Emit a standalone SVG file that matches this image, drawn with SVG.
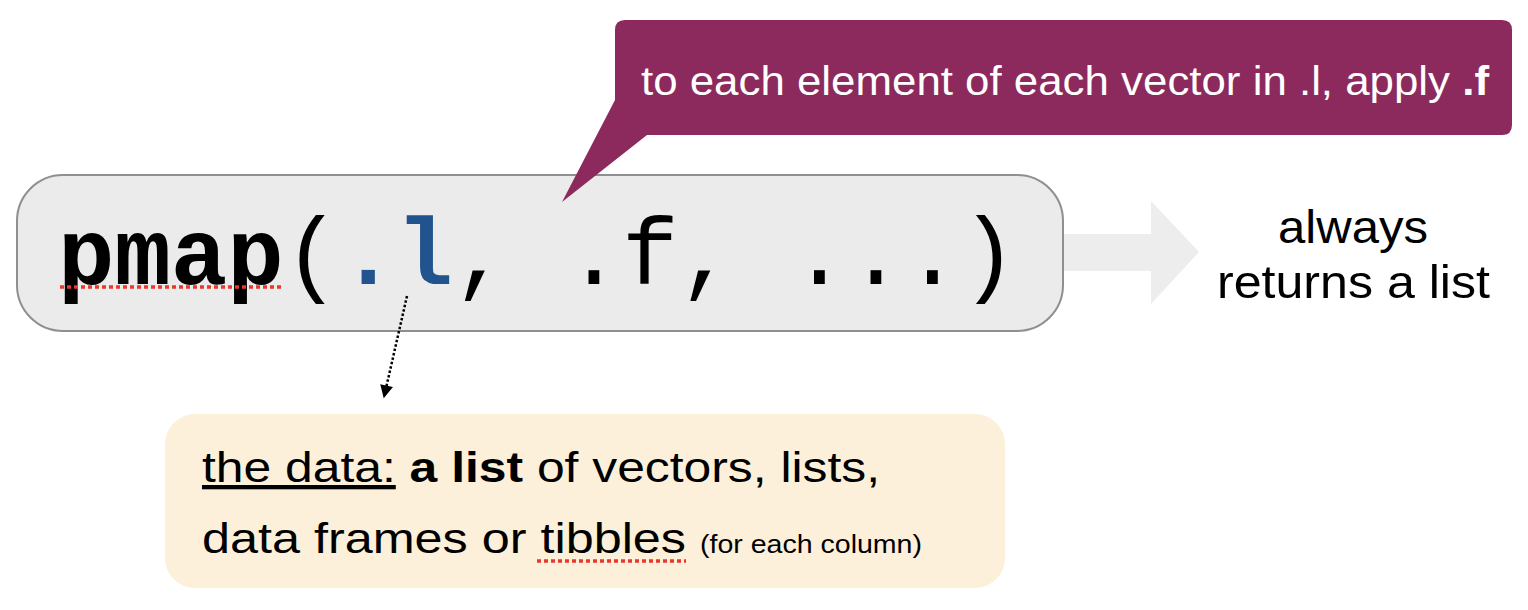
<svg xmlns="http://www.w3.org/2000/svg" width="1528" height="610" viewBox="0 0 1528 610">
<style>
.sans{font-family:"Liberation Sans",Arial,sans-serif;}
.mono{font-family:"Liberation Mono","Courier New",monospace;font-size:94px;}
.redline{stroke:#e8392b;stroke-width:3.5;stroke-dasharray:4,3;fill:none;}
</style>
<defs>
<marker id="ah" viewBox="0 0 10 10" refX="9" refY="5" markerWidth="15" markerHeight="13" orient="auto" markerUnits="userSpaceOnUse">
<path d="M0,0 L10,5 L0,10 z" fill="#000"/>
</marker>
</defs>
<rect width="1528" height="610" fill="#fff"/>
<g id="result-arrow">
<polygon points="1064,234 1151,234 1151,201 1199,252 1151,304 1151,271 1064,271" fill="#ededed"/>
</g>
<g id="code">
<rect x="17" y="175" width="1046" height="156" rx="46" ry="46" fill="#ebebeb" stroke="#8f8f8f" stroke-width="2"/>
<text class="mono" x="58" y="284"><tspan font-weight="bold">pmap</tspan>(<tspan font-weight="bold" fill="#21548f">.l</tspan>, .f, ...)</text>
<line class="redline" x1="60" y1="287" x2="283" y2="287"/>
</g>
<g id="callout">
<path d="M625,20 H1502 Q1512,20 1512,30 V125 Q1512,135 1502,135 H647 L562,202 L615,100 V30 Q615,20 625,20 Z" fill="#8c2a5e"/>
<text class="sans" x="641" y="95" font-size="40" fill="#fff" textLength="848" lengthAdjust="spacingAndGlyphs">to each element of each vector in .l, apply <tspan font-weight="bold">.f</tspan></text>
</g>
<g id="returns">
<text class="sans" x="1278" y="243" font-size="46" fill="#000" textLength="150" lengthAdjust="spacingAndGlyphs">always</text>
<text class="sans" x="1217" y="298" font-size="46" fill="#000" textLength="273" lengthAdjust="spacingAndGlyphs">returns a list</text>
</g>
<g id="data">
<rect x="165" y="414" width="840" height="174" rx="30" ry="30" fill="#fcf0da"/>
<text class="sans" x="202" y="482" font-size="43" fill="#000" textLength="678" lengthAdjust="spacingAndGlyphs"><tspan text-decoration="underline">the data:</tspan> <tspan font-weight="bold">a list</tspan> of vectors, lists,</text>
<text class="sans" x="202" y="553" font-size="43" fill="#000" textLength="484" lengthAdjust="spacingAndGlyphs">data frames or tibbles</text>
<text class="sans" x="700" y="553" font-size="25" fill="#000" textLength="222" lengthAdjust="spacingAndGlyphs">(for each column)</text>
<line class="redline" x1="537" y1="561" x2="686" y2="561"/>
</g>
<g id="connectors">
<line x1="407" y1="296" x2="384" y2="397" stroke="#000" stroke-width="2.5" stroke-dasharray="2.5,2" marker-end="url(#ah)"/>
</g>
</svg>
